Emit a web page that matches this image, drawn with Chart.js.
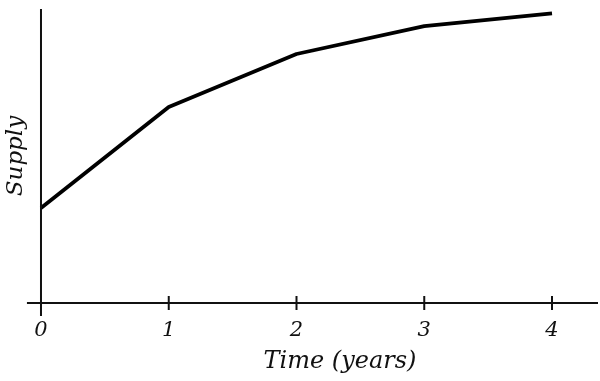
<!DOCTYPE html>
<html>
<head>
<meta charset="utf-8">
<script src="https://cdn.jsdelivr.net/npm/chart.js@4"></script>
<style>
  html, body { margin: 0; padding: 0; background: #fff; }
  #wrap { width: 600px; height: 381px; position: relative; }
</style>
</head>
<body>
<div id="wrap"><canvas id="c" width="600" height="381"></canvas></div>
<script>
// ---- data ----
const years = [0, 1, 2, 3, 4];
const supply = [32.3, 66.7, 84.7, 94.2, 98.5];
const xTickValues = [0, 1, 2, 3, 4];
const xTitle = 'Time (years)';
const yTitle = 'Supply';

const FONT = "'DejaVu Serif', serif";

const axesPlugin = {
  id: 'axesPlugin',
  afterDraw(chart) {
    const {ctx, scales: {x, y}} = chart;
    const x0 = x.getPixelForValue(0);
    const y0 = y.getPixelForValue(0);
    ctx.save();
    ctx.strokeStyle = '#111';
    ctx.lineWidth = 2;
    ctx.lineCap = 'butt';
    // x axis line
    ctx.beginPath();
    ctx.moveTo(x.getPixelForValue(-0.11), y0);
    ctx.lineTo(x.getPixelForValue(4.36), y0);
    ctx.stroke();
    // y axis line
    ctx.beginPath();
    ctx.moveTo(x0, y.getPixelForValue(100));
    ctx.lineTo(x0, y.getPixelForValue(-4.4));
    ctx.stroke();
    // tick marks
    xTickValues.forEach(v => {
      if (v === 0) return;
      const px = x.getPixelForValue(v);
      ctx.beginPath();
      ctx.moveTo(px, y0 - 7);
      ctx.lineTo(px, y0 + 7);
      ctx.stroke();
    });
    ctx.restore();
  }
};

new Chart(document.getElementById('c'), {
  type: 'line',
  data: {
    datasets: [{
      data: years.map((t, i) => ({x: t, y: supply[i]})),
      borderColor: '#000',
      borderWidth: 3.8,
      pointRadius: 0,
      tension: 0,
      clip: false,
      borderJoinStyle: 'round'
    }]
  },
  options: {
    responsive: false,
    animation: false,
    devicePixelRatio: 1,
    layout: { padding: { top: 9, right: 2, left: 0, bottom: 0 } },
    plugins: { legend: { display: false }, tooltip: { enabled: false } },
    scales: {
      x: {
        type: 'linear',
        min: 0.321,
        max: 4.36,
        grid: { display: false, drawTicks: false },
        border: { display: false },
        afterBuildTicks(scale) {
          scale.ticks = xTickValues.map(v => ({ value: v }));
        },
        afterFit(scale) { scale.height = 78; },
        ticks: {
          autoSkip: false,
          maxRotation: 0,
          padding: 15.4,
          color: '#111',
          font: { family: FONT, style: 'italic', size: 21 },
          callback: v => String(v)
        },
        title: {
          display: true,
          text: xTitle,
          color: '#111',
          padding: { top: 0, bottom: 4.6 },
          font: { family: FONT, style: 'italic', size: 24 }
        }
      },
      y: {
        min: 0,
        max: 100,
        grid: { display: false },
        border: { display: false },
        ticks: { display: false },
        afterFit(scale) { scale.width = 82; },
        title: {
          display: true,
          text: yTitle,
          color: '#111',
          padding: { top: 2, bottom: 0 },
          font: { family: FONT, style: 'italic', size: 23 }
        }
      }
    }
  },
  plugins: [axesPlugin]
});
</script>
</body>
</html>
